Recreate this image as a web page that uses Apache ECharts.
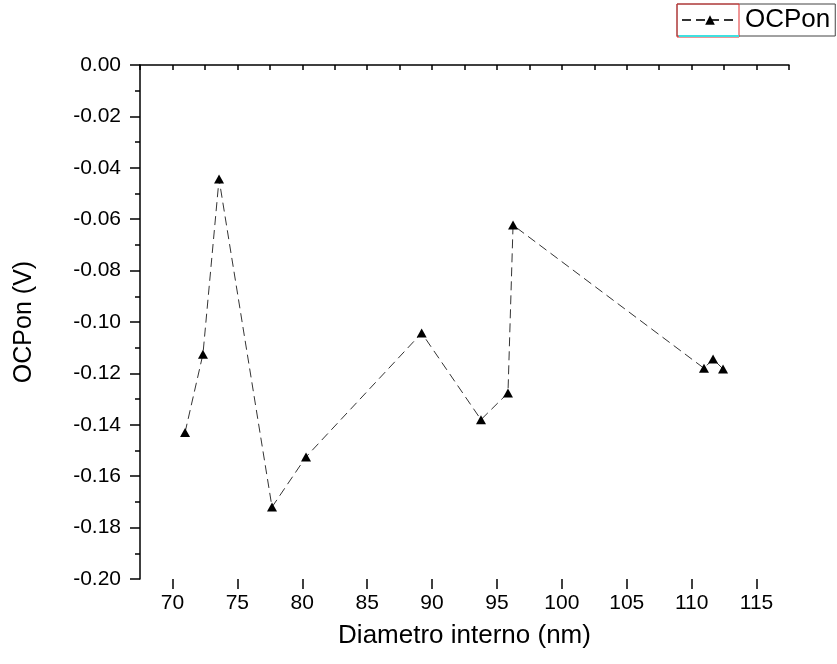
<!DOCTYPE html>
<html>
<head>
<meta charset="utf-8">
<script src="https://cdn.jsdelivr.net/npm/echarts@6/dist/echarts.min.js"></script>
<style>
  html, body { margin: 0; padding: 0; background: #fff; }
  #chart { width: 837px; height: 664px; }
</style>
</head>
<body>
<div id="chart"></div>
<script>
// diametro interno (nm) e OCPon (V)
const diametro = [70.97, 72.35, 73.59, 77.67, 80.29, 89.2, 93.77, 95.85, 96.24, 110.95, 111.65, 112.42];
const ocpon = [-0.143, -0.1125, -0.0444, -0.172, -0.1525, -0.1043, -0.138, -0.1276, -0.0623, -0.118, -0.1144, -0.1183];
const xTicks = [70, 75, 80, 85, 90, 95, 100, 105, 110, 115];

const chart = echarts.init(document.getElementById('chart'));

const fontFam = '"Liberation Sans", Arial, sans-serif';

chart.setOption({
  animation: false,
  grid: { left: 140, right: 48, top: 65, bottom: 85 },
  legend: {
    left: 677,
    top: 4,
    padding: [3, 5, 3, 4],
    itemWidth: 56,
    itemHeight: 12,
    itemGap: 0,
    borderColor: '#444',
    borderWidth: 1,
    textStyle: { fontSize: 26, color: '#000', fontFamily: fontFam, padding: [0, 0, 0, 2] },
    data: ['OCPon']
  },
  graphic: [
    { type: 'rect', shape: { x: 677, y: 4, width: 62, height: 33 }, style: { fill: 'none', stroke: '#e03030', lineWidth: 1 }, z: 100 },
    { type: 'line', shape: { x1: 679, y1: 36, x2: 739, y2: 36 }, style: { stroke: '#40e0e0', lineWidth: 2 }, z: 100 }
  ],
  xAxis: [{
    type: 'value',
    min: 67.5,
    max: 117.5,
    interval: 2.5,
    name: 'Diametro interno (nm)',
    nameLocation: 'middle',
    nameGap: 44,
    nameTextStyle: { fontSize: 26, color: '#000', fontFamily: fontFam },
    axisLine: { show: true, lineStyle: { color: '#000', width: 1.5 } },
    axisTick: { show: true, inside: false, length: 5, lineStyle: { color: '#000', width: 1.5 } },
    axisLabel: {
      margin: 14,
      fontSize: 21,
      color: '#000',
      fontFamily: fontFam,
      formatter: function (v) { return xTicks.indexOf(v) >= 0 ? String(v) : ''; }
    },
    splitLine: { show: false }
  }, {
    // solo i tick maggiori
    type: 'value',
    position: 'bottom',
    min: 67.5,
    max: 117.5,
    axisLine: { show: false },
    axisTick: { show: true, inside: false, length: 10, customValues: xTicks, lineStyle: { color: '#000', width: 1.5 } },
    axisLabel: { show: false },
    splitLine: { show: false }
  }],
  yAxis: {
    type: 'value',
    min: -0.2,
    max: 0,
    interval: 0.02,
    name: 'OCPon (V)',
    nameLocation: 'middle',
    nameGap: 103,
    nameTextStyle: { fontSize: 25, color: '#000', fontFamily: fontFam },
    axisLine: { show: true, lineStyle: { color: '#000', width: 1.5 } },
    axisTick: { show: true, inside: false, length: 10, lineStyle: { color: '#000', width: 1.5 } },
    minorTick: { show: true, splitNumber: 2, length: 5, lineStyle: { color: '#000', width: 1.5 } },
    axisLabel: {
      margin: 19,
      fontSize: 21,
      color: '#000',
      fontFamily: fontFam,
      formatter: function (v) { return v.toFixed(2); }
    },
    splitLine: { show: false }
  },
  series: [{
    name: 'OCPon',
    type: 'line',
    data: diametro.map(function (d, i) { return [d, ocpon[i]]; }),
    symbol: 'triangle',
    symbolSize: [10, 9],
    itemStyle: { color: '#000' },
    lineStyle: { color: '#333', width: 1, type: [9, 5] }
  }]
});
</script>
</body>
</html>
